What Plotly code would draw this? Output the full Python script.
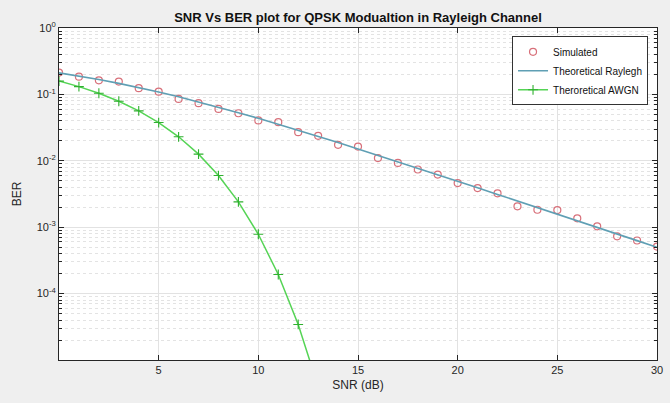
import plotly.graph_objects as go

snr_db = list(range(0, 31))
ber_simulated = [0.213, 0.185, 0.163, 0.156, 0.124, 0.110, 0.0855, 0.0737, 0.0605, 0.052,
                 0.0405, 0.0382, 0.027, 0.0238, 0.0174, 0.0164, 0.0110, 0.0093, 0.0074, 0.0062,
                 0.00462, 0.00389, 0.00324, 0.00206, 0.00183, 0.00181, 0.00136, 0.00103, 0.00073,
                 0.00063, 0.00051]
ber_theory_rayleigh = [0.2113, 0.1892, 0.1675, 0.1467, 0.1269, 0.1086, 0.0921, 0.0773, 0.0643, 0.0531,
                       0.0436, 0.0355, 0.0289, 0.0233, 0.0188, 0.0151, 0.0121, 0.00968, 0.00774, 0.00618,
                       0.00493, 0.00392, 0.00312, 0.00249, 0.00198, 0.00157, 0.00125, 0.000995, 0.000791,
                       0.000628, 0.000499]
snr_db_awgn = list(range(0, 15))
ber_theory_awgn = [0.1587, 0.1309, 0.1040, 0.0789, 0.0565, 0.0377, 0.0230, 0.0126, 0.0060, 0.00241,
                   0.000783, 0.000194, 3.43e-5, 3.97e-6, 2.7e-7]

y_tickvals = [1e-4, 1e-3, 1e-2, 1e-1, 1]
y_ticktext = ["10<sup>-4</sup>", "10<sup>-3</sup>", "10<sup>-2</sup>", "10<sup>-1</sup>", "10<sup>0</sup>"]
x_tickvals = [5, 10, 15, 20, 25, 30]

FONT = "Arial, Liberation Sans, sans-serif"
AX = "#262626"

fig = go.Figure()
fig.add_trace(go.Scatter(x=snr_db, y=ber_simulated, mode="markers", name="Simulated",
                         marker=dict(symbol="circle-open", size=7, color="#d8707a", line=dict(width=1.2))))
fig.add_trace(go.Scatter(x=snr_db, y=ber_theory_rayleigh, mode="lines", name="Theoretical Raylegh",
                         line=dict(color="#5f9fb4", width=1.6)))
fig.add_trace(go.Scatter(x=snr_db_awgn, y=ber_theory_awgn, mode="lines+markers", name="Theroretical AWGN",
                         line=dict(color="#55d455", width=1.5),
                         marker=dict(symbol="cross-thin-open", size=7, color="#2fb02f",
                                     line=dict(width=1.1, color="#2fb02f"))))

fig.update_layout(
    width=670, height=403,
    margin=dict(l=59, r=13, t=28, b=43, autoexpand=False),
    paper_bgcolor="#efefef", plot_bgcolor="white",
    font=dict(family=FONT, size=11, color=AX),
    title=dict(text="<b>SNR Vs BER plot for QPSK Modualtion in Rayleigh Channel</b>",
               x=(59 + 598 / 2) / 670, xanchor="center", y=1 - 17 / 403, yanchor="middle",
               font=dict(family=FONT, size=13, color="#111111")),
    showlegend=True,
    legend=dict(x=0.985, xanchor="right", y=0.975, yanchor="top",
                bgcolor="white", bordercolor="#333333", borderwidth=1,
                font=dict(family=FONT, size=10, color="#111111"),
                tracegroupgap=0, itemwidth=30),
    xaxis=dict(range=[0, 30], tickvals=x_tickvals, ticks="inside", ticklen=5, tickcolor=AX,
               showline=True, linecolor=AX, linewidth=1, mirror="ticks",
               showgrid=True, gridcolor="#e2e2e2", gridwidth=1, zeroline=False,
               title=dict(text="SNR (dB)", standoff=5, font=dict(size=12, color=AX)),
               tickfont=dict(size=11, color=AX)),
    yaxis=dict(type="log", range=[-5, 0], tickvals=y_tickvals, ticktext=y_ticktext,
               ticks="inside", ticklen=5, tickcolor=AX,
               showline=True, linecolor=AX, linewidth=1, mirror="ticks",
               showgrid=True, gridcolor="#e2e2e2", gridwidth=1, zeroline=False,
               minor=dict(dtick="D1", ticks="inside", ticklen=3, tickcolor=AX, showgrid=True,
                          gridcolor="#e3e3e3", griddash="dot", gridwidth=1),
               title=dict(text="BER", standoff=12, font=dict(size=12, color=AX)),
               tickfont=dict(size=11, color=AX)),
)

fig.write_html("out.html")
